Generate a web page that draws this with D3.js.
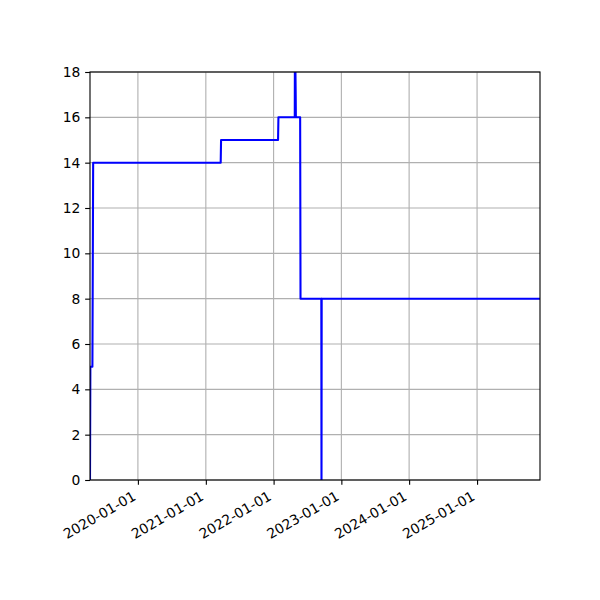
<!DOCTYPE html>
<html>
<head>
<meta charset="utf-8">
<script src="https://cdn.jsdelivr.net/npm/d3@7"></script>
<style>
  body { margin: 0; background: #fff; }
  text { font-family: "DejaVu Sans", sans-serif; fill: #000; }
</style>
</head>
<body>
<div id="chart"></div>
<script>
// series
var dates = ["2019-04-18", "2019-04-20", "2019-05-01", "2019-05-05",
             "2021-03-22", "2021-03-24", "2022-01-25", "2022-01-27",
             "2022-04-25", "2022-04-26", "2022-04-30", "2022-05-01",
             "2022-05-24", "2022-05-26", "2022-09-15", "2022-09-16",
             "2022-09-17", "2025-12-06"];
var values = [0, 5, 5, 14,
              14, 15, 15, 16,
              16, 20, 17, 16,
              16, 8, 8, 0,
              8, 8];
var yTicks = [0, 2, 4, 6, 8, 10, 12, 14, 16, 18];
var xTicks = ["2020-01-01", "2021-01-01", "2022-01-01", "2023-01-01", "2024-01-01", "2025-01-01"];

var width = 600, height = 600;
var margin = {left: 90, right: 60, top: 72, bottom: 120};
var pt = 100 / 72;   // matplotlib points -> px at 100 dpi
var fontSize = 10 * pt;
var parse = d3.utcParse("%Y-%m-%d");
var fmt = d3.utcFormat("%Y-%m-%d");

var data = dates.map(function(d, i){ return {date: parse(d), value: values[i]}; });

var svg = d3.select("#chart").append("svg")
  .attr("width", width)
  .attr("height", height);

var x = d3.scaleUtc()
  .domain(d3.extent(data, function(d){ return d.date; }))
  .range([margin.left, width - margin.right]);
var y = d3.scaleLinear()
  .domain([0, 18])
  .range([height - margin.bottom, margin.top]);

var xTickDates = xTicks.map(parse);

// grid
svg.append("g").selectAll("line")
  .data(xTickDates).enter().append("line")
  .attr("x1", function(d){ return x(d); }).attr("x2", function(d){ return x(d); })
  .attr("y1", y(0)).attr("y2", y(18))
  .attr("stroke", "#b0b0b0").attr("stroke-width", 0.8 * pt);
svg.append("g").selectAll("line")
  .data(yTicks).enter().append("line")
  .attr("x1", x.range()[0]).attr("x2", x.range()[1])
  .attr("y1", function(d){ return y(d); }).attr("y2", function(d){ return y(d); })
  .attr("stroke", "#b0b0b0").attr("stroke-width", 0.8 * pt);

// line, clipped to the axes
svg.append("clipPath").attr("id", "clip").append("rect")
  .attr("x", margin.left).attr("y", margin.top)
  .attr("width", width - margin.left - margin.right)
  .attr("height", height - margin.top - margin.bottom);

var line = d3.line()
  .x(function(d){ return x(d.date); })
  .y(function(d){ return y(d.value); });

svg.append("path")
  .datum(data)
  .attr("clip-path", "url(#clip)")
  .attr("fill", "none")
  .attr("stroke", "#0000ff")
  .attr("stroke-width", 1.5 * pt)
  .attr("stroke-linejoin", "round")
  .attr("d", line);

// axes
var tickLen = 3.5 * pt;
var xAxis = svg.append("g")
  .attr("transform", "translate(0," + y(0) + ")")
  .call(d3.axisBottom(x).tickValues(xTickDates).tickFormat(fmt).tickSize(tickLen).tickPadding(tickLen));
xAxis.selectAll(".tick text")
  .attr("text-anchor", "end")
  .attr("y", 0)
  .attr("dy", 0)
  .attr("transform", "translate(-1.6,19) rotate(-30)");

var yAxis = svg.append("g")
  .attr("transform", "translate(" + margin.left + ",0)")
  .call(d3.axisLeft(y).tickValues(yTicks).tickSize(tickLen).tickPadding(tickLen));

[xAxis, yAxis].forEach(function(a){
  a.attr("font-family", null).attr("font-size", null);
  a.select(".domain").remove();
  a.selectAll(".tick line").attr("stroke", "#000").attr("stroke-width", 0.8 * pt);
  a.selectAll(".tick text").attr("fill", "#000")
    .style("font-family", "'DejaVu Sans'").style("font-size", fontSize + "px");
});

// frame
svg.append("rect")
  .attr("x", margin.left).attr("y", margin.top)
  .attr("width", width - margin.left - margin.right)
  .attr("height", height - margin.top - margin.bottom)
  .attr("fill", "none").attr("stroke", "#000").attr("stroke-width", 0.8 * pt);
</script>
</body>
</html>
